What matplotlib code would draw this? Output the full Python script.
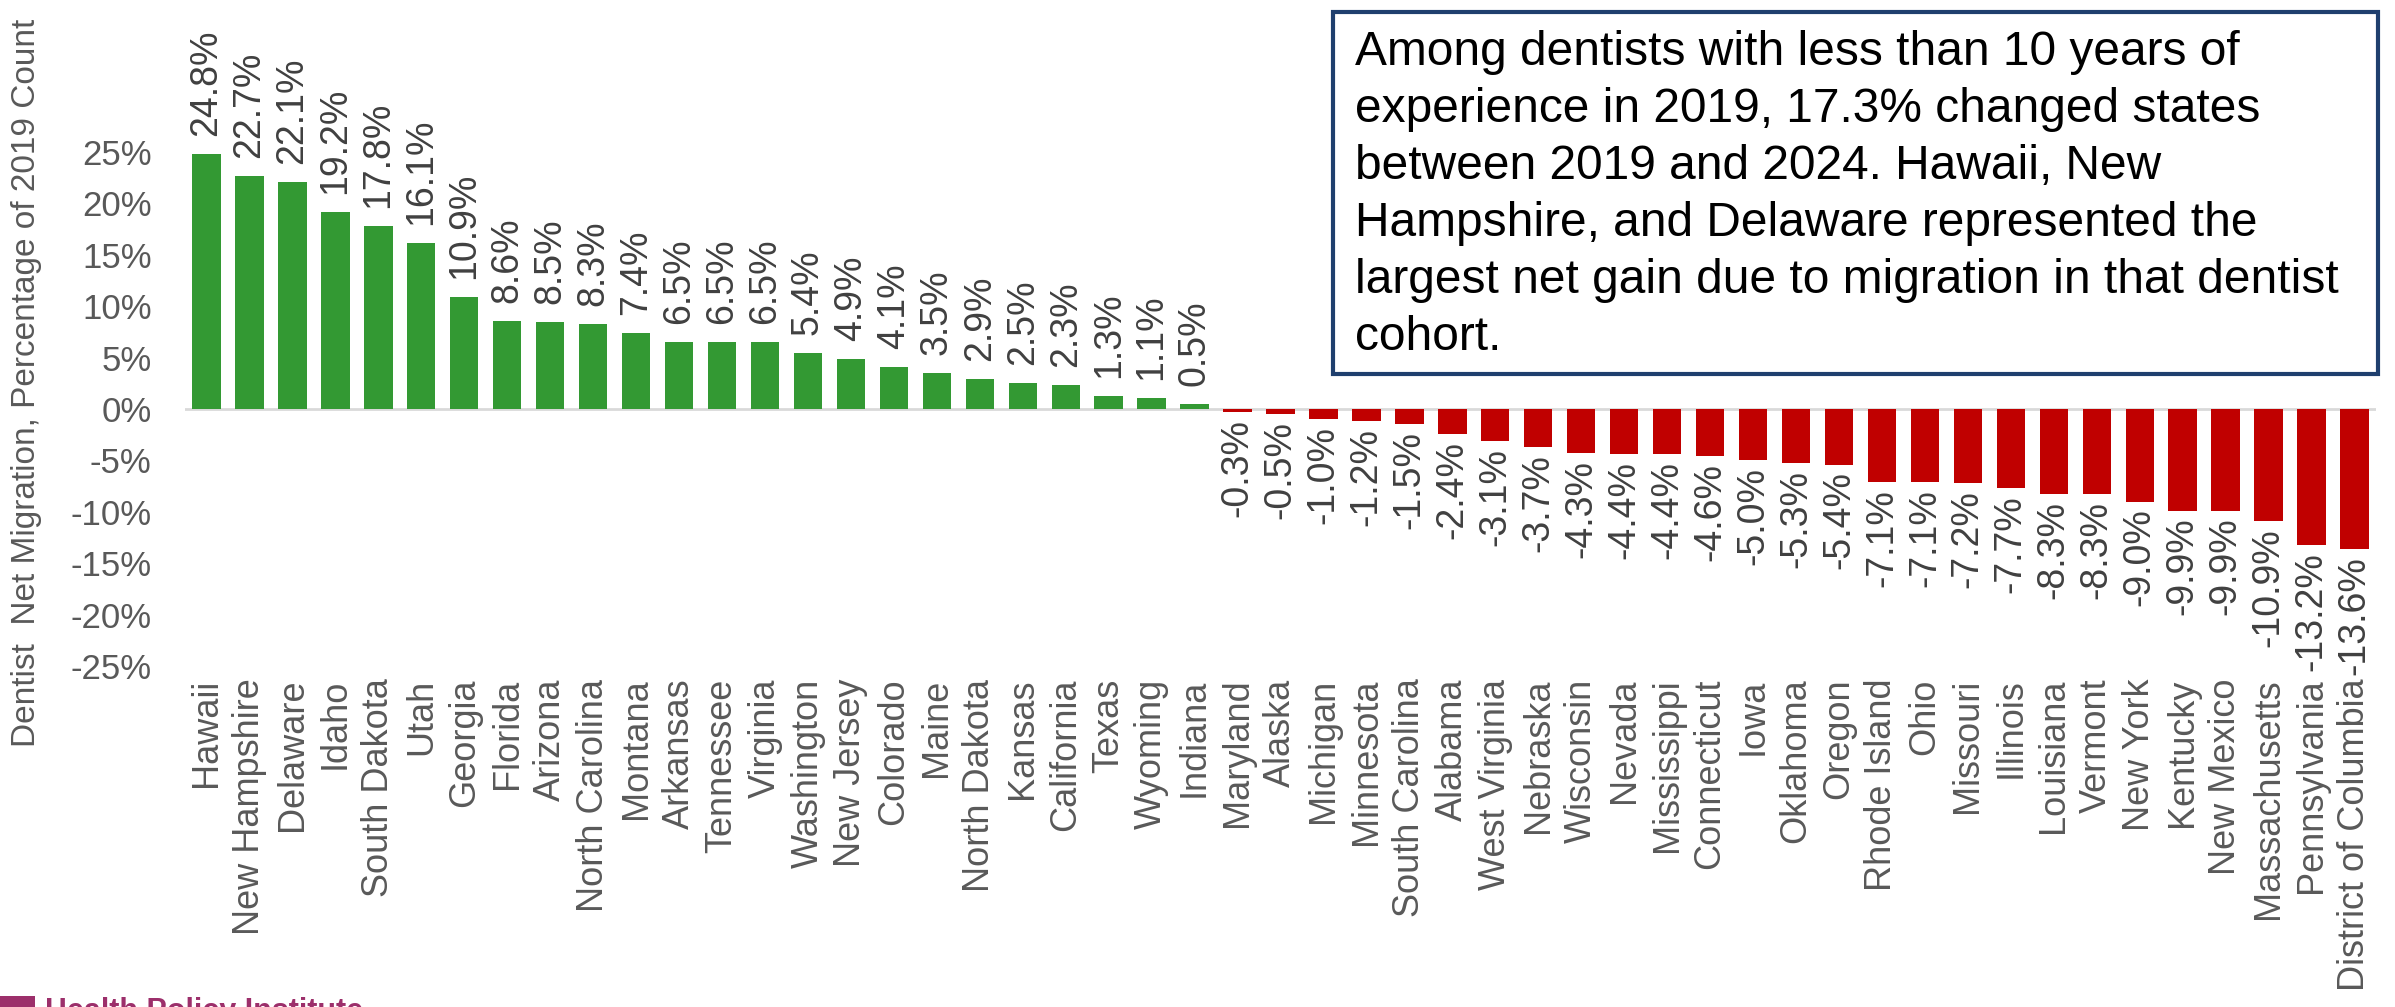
import matplotlib.pyplot as plt
from matplotlib.patches import Rectangle
import numpy as np

plt.rcParams['font.family'] = ['Liberation Sans', 'DejaVu Sans']

states = ["Hawaii", "New Hampshire", "Delaware", "Idaho", "South Dakota", "Utah",
          "Georgia", "Florida", "Arizona", "North Carolina", "Montana", "Arkansas",
          "Tennessee", "Virginia", "Washington", "New Jersey", "Colorado", "Maine",
          "North Dakota", "Kansas", "California", "Texas", "Wyoming", "Indiana",
          "Maryland", "Alaska", "Michigan", "Minnesota", "South Carolina", "Alabama",
          "West Virginia", "Nebraska", "Wisconsin", "Nevada", "Mississippi",
          "Connecticut", "Iowa", "Oklahoma", "Oregon", "Rhode Island", "Ohio",
          "Missouri", "Illinois", "Louisiana", "Vermont", "New York", "Kentucky",
          "New Mexico", "Massachusetts", "Pennsylvania", "District of Columbia"]
net_migration = [24.8, 22.7, 22.1, 19.2, 17.8, 16.1, 10.9, 8.6, 8.5, 8.3, 7.4, 6.5,
                 6.5, 6.5, 5.4, 4.9, 4.1, 3.5, 2.9, 2.5, 2.3, 1.3, 1.1, 0.5,
                 -0.3, -0.5, -1.0, -1.2, -1.5, -2.4, -3.1, -3.7, -4.3, -4.4, -4.4,
                 -4.6, -5.0, -5.3, -5.4, -7.1, -7.1, -7.2, -7.7, -8.3, -8.3, -9.0,
                 -9.9, -9.9, -10.9, -13.2, -13.6]
y_ticks = [25, 20, 15, 10, 5, 0, -5, -10, -15, -20, -25]

note = ("Among dentists with less than 10 years of\n"
        "experience in 2019, 17.3% changed states\n"
        "between 2019 and 2024. Hawaii, New\n"
        "Hampshire, and Delaware represented the\n"
        "largest net gain due to migration in that dentist\n"
        "cohort.")

W, H = 2395, 1007
fig = plt.figure(figsize=(W / 100, H / 100), dpi=100)
ax = fig.add_axes([185 / W, 1 - 666 / H, (2376 - 185) / W, (666 - 152) / H])

x = np.arange(len(states))
vals = np.array(net_migration)
colors = np.where(vals >= 0, '#339933', '#C00000')
ax.bar(x, vals, width=0.66, color=colors, zorder=2)
ax.axhline(0, color='#D9D9D9', lw=2, zorder=1)

for xi, v in zip(x, vals):
    if v >= 0:
        ax.annotate(f"{v:.1f}%", (xi, v), xytext=(0, 13), textcoords='offset points',
                    rotation=90, ha='center', va='bottom', fontsize=27,
                    color='#404040', annotation_clip=False)
    else:
        ax.annotate(f"{v:.1f}%", (xi, v), xytext=(0, -5), textcoords='offset points',
                    rotation=90, ha='center', va='top', fontsize=27,
                    color='#404040', annotation_clip=False)

ax.set_xlim(-0.5, len(states) - 0.5)
ax.set_ylim(-25, 25)
ax.set_yticks(y_ticks)
ax.set_yticklabels([f"{t}%" for t in y_ticks], fontsize=25, color='#595959')
ax.set_xticks(x)
ax.set_xticklabels(states, rotation=90, fontsize=26, color='#595959', va='top')
ax.tick_params(axis='both', length=0)
ax.tick_params(axis='y', pad=24)
ax.tick_params(axis='x', pad=9)
for s in ax.spines.values():
    s.set_visible(False)

fig.text(27 / W, 1 - 383 / H, "Dentist  Net Migration, Percentage of 2019 Count",
         rotation=90, ha='center', va='center', fontsize=24, color='#595959')

# note box
fig.patches.append(Rectangle((1333 / W, 1 - 374 / H), 1045 / W, 362 / H,
                             transform=fig.transFigure, facecolor='white',
                             edgecolor='#1F3F6E', lw=3, zorder=5))
fig.text(1355 / W, 1 - 30 / H, note, ha='left', va='top', fontsize=34.5,
         color='black', linespacing=1.34, zorder=6)

# logo, cut at the bottom edge
fig.patches.append(Rectangle((0, 0), 35 / W, 11 / H, transform=fig.transFigure,
                             facecolor='#9C2F6B', edgecolor='none'))
fig.text(45 / W, 1 - 997 / H, "Health Policy Institute", ha='left', va='top',
         fontsize=22, fontweight='bold', color='#9C2F6B')

fig.savefig('out.png', dpi=100)
